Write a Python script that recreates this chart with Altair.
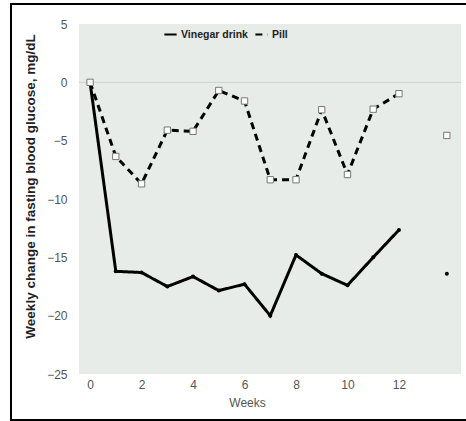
import altair as alt
import pandas as pd

weeks = [0, 1, 2, 3, 4, 5, 6, 7, 8, 9, 10, 11, 12]
vinegar = [0, -16.2, -16.3, -17.5, -16.65, -17.85, -17.3, -20.0, -14.8, -16.4, -17.4, -15.0, -12.65]
pill = [0, -6.35, -8.7, -4.1, -4.2, -0.7, -1.6, -8.35, -8.35, -2.35, -7.9, -2.3, -0.97]
overall_week = 13.86
overall_vinegar = -16.4
overall_pill = -4.55

series_names = ["Vinegar drink", "Pill"]

rows = []
for w, v in zip(weeks, vinegar):
    rows.append({"week": w, "value": v, "series": "Vinegar drink"})
for w, p in zip(weeks, pill):
    rows.append({"week": w, "value": p, "series": "Pill"})
df = pd.DataFrame(rows)
df_v = df[df.series == "Vinegar drink"]
df_p = df[df.series == "Pill"]
df_overall = pd.DataFrame([
    {"week": overall_week, "value": overall_vinegar, "series": "Vinegar drink"},
    {"week": overall_week, "value": overall_pill, "series": "Pill"},
])

FONT = "Liberation Sans"
xscale = alt.Scale(domain=[-0.43, 14.41], nice=False, zero=False)
yscale = alt.Scale(domain=[-25, 5], nice=False)

x_enc = alt.X("week:Q", scale=xscale,
              axis=alt.Axis(values=[0, 2, 4, 6, 8, 10, 12], title="Weeks", grid=False,
                            domain=False, ticks=False, labelPadding=5,
                            labelFont=FONT, labelFontSize=12, labelColor="#555555",
                            titleFont=FONT, titleFontSize=12, titleFontWeight="normal",
                            titleColor="#555555", titleX=168, titleY=23, titleAnchor="middle"))
y_enc = alt.Y("value:Q", scale=yscale,
              axis=alt.Axis(values=[5, 0, -5, -10, -15, -20, -25],
                            title="Weekly change in fasting blood glucose, mg/dL",
                            grid=False, domain=False, ticks=False, labelPadding=12,
                            labelFont=FONT, labelFontSize=12, labelColor="#555555",
                            titleFont=FONT, titleFontSize=13.5, titleFontWeight="bold",
                            titleColor="#222222", titleX=-49, titleY=162,
                            titleAngle=-90, titleBaseline="middle", titleAnchor="middle"))

zero_rule = alt.Chart(pd.DataFrame({"z": [0]})).mark_rule(color="#cfd3cf", strokeWidth=1).encode(
    y=alt.Y("z:Q", scale=yscale)
)

lines = alt.Chart(df).mark_line(color="black", strokeWidth=3).encode(
    x=x_enc,
    y=y_enc,
    strokeDash=alt.StrokeDash(
        "series:N",
        scale=alt.Scale(domain=series_names, range=[[1, 0], [7, 5]]),
        legend=alt.Legend(title=None, orient="none", legendX=84, legendY=3,
                          direction="horizontal", symbolType="stroke",
                          symbolStrokeColor="black", symbolStrokeWidth=2,
                          symbolSize=150, labelFont=FONT, labelFontSize=10.5,
                          labelFontWeight="bold", labelColor="#222222",
                          columnPadding=3, labelOffset=3),
    ),
    detail="series:N",
)

v_points = alt.Chart(df_v).mark_point(filled=True, shape="circle", color="black", size=16, opacity=1).encode(
    x=alt.X("week:Q", scale=xscale), y=alt.Y("value:Q", scale=yscale)
)
p_points = alt.Chart(df_p).mark_point(filled=True, shape="square", fill="white", stroke="#777777",
                                      strokeWidth=1, size=40, opacity=1).encode(
    x=alt.X("week:Q", scale=xscale), y=alt.Y("value:Q", scale=yscale)
)
o_v = alt.Chart(df_overall[df_overall.series == "Vinegar drink"]).mark_point(
    filled=True, shape="circle", color="black", size=16, opacity=1).encode(
    x=alt.X("week:Q", scale=xscale), y=alt.Y("value:Q", scale=yscale)
)
o_p = alt.Chart(df_overall[df_overall.series == "Pill"]).mark_point(
    filled=True, shape="square", fill="white", stroke="#777777", strokeWidth=1, size=40, opacity=1).encode(
    x=alt.X("week:Q", scale=xscale), y=alt.Y("value:Q", scale=yscale)
)

frame = alt.Chart(pd.DataFrame({"a": [0]})).mark_rect(
    filled=False, stroke="black", strokeWidth=2, clip=False
).encode(
    x=alt.value(-68), x2=alt.value(392), y=alt.value(-20), y2=alt.value(396)
)

chart = alt.layer(zero_rule, lines, v_points, p_points, o_v, o_p, frame).properties(
    width=382, height=350,
    autosize=alt.AutoSizeParams(type="none"),
    padding={"left": 79, "top": 24, "right": 5, "bottom": 47},
    background="white",
).configure_view(fill="#e8ece8", stroke=None)

chart.save("out.html", embed_options={"renderer": "svg", "actions": False})
